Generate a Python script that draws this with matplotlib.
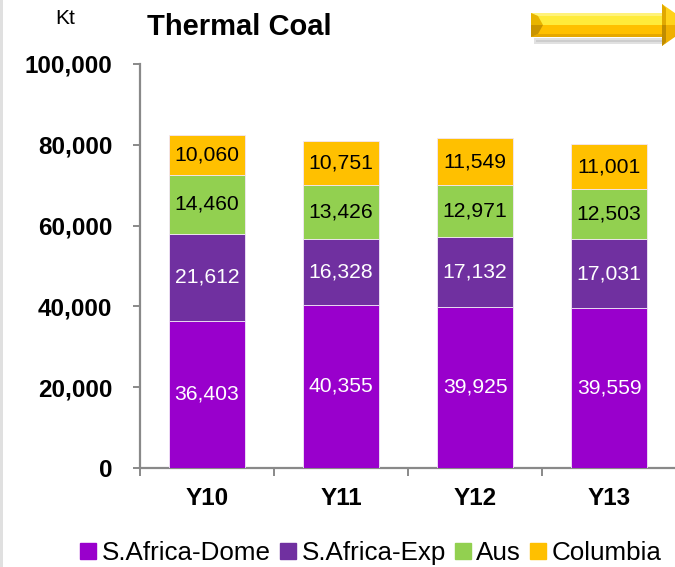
import matplotlib
matplotlib.use("Agg")
import matplotlib.pyplot as plt
from matplotlib.patches import Polygon, Rectangle
from matplotlib.lines import Line2D
from matplotlib.ticker import FuncFormatter, FixedLocator

plt.rcParams['font.family'] = ['Liberation Sans', 'DejaVu Sans']

years = ["Y10", "Y11", "Y12", "Y13"]
series_names = ["S.Africa-Dome", "S.Africa-Exp", "Aus", "Columbia"]
sa_dome = [36403, 40355, 39925, 39559]
sa_exp = [21612, 16328, 17132, 17031]
aus = [14460, 13426, 12971, 12503]
columbia = [10060, 10751, 11549, 11001]

colors = ["#9900CC", "#7030A0", "#92D050", "#FFC000"]
label_colors = ["white", "white", "black", "black"]

W, H = 675, 567
fig = plt.figure(figsize=(W / 100, H / 100), dpi=100)
fig.patch.set_facecolor("white")


def fx(x):
    return x / W


def fy(y):
    return 1 - y / H


ax = fig.add_axes([fx(140), fy(468), 536 / W, (468 - 64) / H])

x = list(range(len(years)))
bottom = [0] * len(years)
for vals, col, lc in zip([sa_dome, sa_exp, aus, columbia], colors, label_colors):
    ax.bar(x, vals, width=0.56, bottom=bottom, color=col,
           edgecolor="#F2E6F7", linewidth=0.6, zorder=3)
    for xi, b, v in zip(x, bottom, vals):
        ax.text(xi, b + v / 2, f"{v:,}", ha="center", va="center",
                color=lc, fontsize=15.2, zorder=4)
    bottom = [b + v for b, v in zip(bottom, vals)]

ax.set_xlim(-0.5, 3.5)
ax.set_ylim(0, 100000)
ax.set_yticks(range(0, 100001, 20000))
ax.yaxis.set_major_formatter(FuncFormatter(lambda v, p: f"{int(v):,}"))
ax.set_xticks(x)
ax.set_xticklabels(years)
ax.xaxis.set_minor_locator(FixedLocator([-0.5, 0.5, 1.5, 2.5, 3.5]))

for s in ["top", "right"]:
    ax.spines[s].set_visible(False)
for s in ["left", "bottom"]:
    ax.spines[s].set_color("#898989")
    ax.spines[s].set_linewidth(1.6)

ax.tick_params(axis="y", direction="out", length=5, width=1.4, color="#898989",
               pad=15, labelsize=17.5)
ax.tick_params(axis="x", which="major", length=0, pad=14, labelsize=17.5)
ax.tick_params(axis="x", which="minor", direction="out", length=6, width=1.4,
               color="#898989")
for lbl in ax.get_yticklabels() + ax.get_xticklabels():
    lbl.set_fontweight("bold")

# Titles
fig.text(fx(65), fy(19), "Kt", ha="center", va="center", fontsize=15)
fig.text(fx(147), fy(27), "Thermal Coal", ha="left", va="center",
         fontsize=21, fontweight="bold")

# Legend
handles = [Line2D([0], [0], marker="s", linestyle="none", markersize=11,
                  markerfacecolor=c, markeredgecolor=c) for c in colors]
fig.legend(handles, series_names, loc="center",
           bbox_to_anchor=(fx(371), fy(553)), ncol=4, frameon=False,
           fontsize=18.7, handlelength=0.6, handletextpad=0.22,
           columnspacing=0.35, borderpad=0)

# Left page border
fig.patches.append(Rectangle((0, 0), fx(2.5), 1, transform=fig.transFigure,
                             facecolor="#E0E0E0", edgecolor="none"))

# Decorative arrow (shadow, shaft, bevels, head)
def poly(pts, color, alpha=1.0, z=5):
    fig.patches.append(Polygon([(fx(a), fy(b)) for a, b in pts], closed=True,
                               transform=fig.transFigure, facecolor=color,
                               edgecolor="none", alpha=alpha, zorder=z))

poly([(534, 38), (666, 38), (666, 44), (534, 44)], "#BDBDBD", 0.45, 4)
poly([(536, 40), (664, 40), (664, 42), (536, 42)], "#A8A8A8", 0.35, 4)
poly([(531, 13), (664, 13), (664, 25), (531, 25)], "#FFEB3B")
poly([(531, 25), (664, 25), (664, 37), (531, 37)], "#FFC000")
poly([(531, 13), (664, 13), (664, 16), (538, 16)], "#FFF27A")
poly([(531, 37), (664, 37), (664, 34), (538, 34)], "#E6A800")
poly([(531, 13), (538, 16), (543, 25), (531, 25)], "#E8B400")
poly([(531, 25), (543, 25), (538, 34), (531, 37)], "#C99400")
poly([(662, 4), (692, 25), (662, 25)], "#FFD21A")
poly([(662, 25), (692, 25), (662, 46)], "#F0B000")
poly([(662, 4), (666, 8), (666, 25), (662, 25)], "#E0A800")
poly([(662, 46), (666, 42), (666, 25), (662, 25)], "#C08C00")

fig.savefig("out.png", dpi=100, facecolor="white")
